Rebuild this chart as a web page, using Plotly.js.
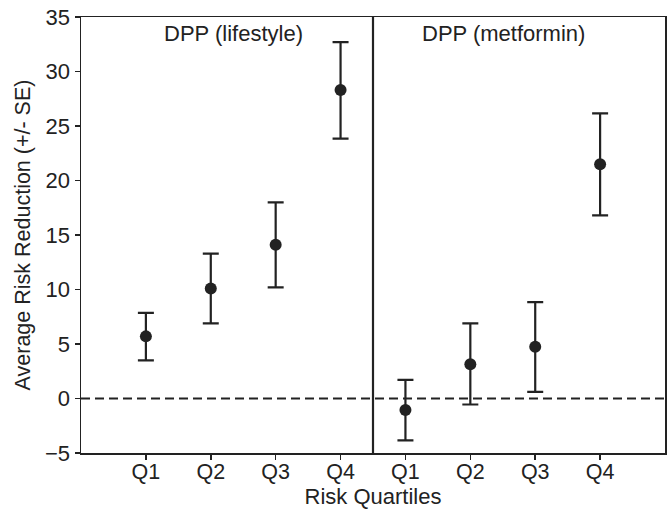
<!DOCTYPE html>
<html>
<head>
<meta charset="utf-8">
<script src="https://cdn.plot.ly/plotly-3.0.1.min.js"></script>
<style>html,body{margin:0;padding:0;background:#fff;}#chart{width:671px;height:512px;}</style>
</head>
<body>
<div id="chart"></div>
<script>
const quartiles = ["Q1", "Q2", "Q3", "Q4"];
const groups = ["DPP (lifestyle)", "DPP (metformin)"];
const lifestyleMean = [5.7, 10.1, 14.1, 28.3];
const lifestyleUpper = [7.85, 13.3, 18.0, 32.7];
const lifestyleLower = [3.5, 6.9, 10.2, 23.85];
const metforminMean = [-1.05, 3.15, 4.75, 21.5];
const metforminUpper = [1.7, 6.9, 8.85, 26.15];
const metforminLower = [-3.85, -0.55, 0.6, 16.8];

const lifePos = quartiles.map((q, i) => i + 1);
const metPos = quartiles.map((q, i) => i + 5);
const col = "#222222";
const fam = "'Liberation Sans', Arial, Helvetica, sans-serif";

function trace(pos, mean, up, lo) {
  return {
    type: "scatter", mode: "markers", x: pos, y: mean,
    marker: {color: col, size: 12},
    error_y: {type: "data", symmetric: false,
      array: mean.map((m, i) => up[i] - m),
      arrayminus: mean.map((m, i) => m - lo[i]),
      color: col, thickness: 2.2, width: 8},
    showlegend: false, hoverinfo: "y"
  };
}

const data = [
  trace(lifePos, lifestyleMean, lifestyleUpper, lifestyleLower),
  trace(metPos, metforminMean, metforminUpper, metforminLower)
];

const layout = {
  width: 671, height: 512,
  margin: {l: 81, r: 6, t: 17, b: 59},
  paper_bgcolor: "#fff", plot_bgcolor: "#fff",
  font: {family: fam, size: 21, color: col},
  xaxis: {
    range: [0, 9], tickvals: lifePos.concat(metPos), ticktext: quartiles.concat(quartiles),
    showgrid: false, zeroline: false, showline: true, mirror: true, linecolor: col, linewidth: 1.5,
    ticks: "outside", ticklen: 5, tickwidth: 1.5, tickcolor: col, ticklabelstandoff: -6,
    tickfont: {family: fam, size: 21.5, color: col},
    title: {text: "Risk Quartiles", font: {family: fam, size: 22, color: col}, standoff: 0}
  },
  yaxis: {
    range: [-5, 35], dtick: 5, tickformat: "d",
    showgrid: false, zeroline: false, showline: true, mirror: true, linecolor: col, linewidth: 1.5,
    ticks: "outside", ticklen: 5, tickwidth: 1.5, tickcolor: col,
    tickfont: {family: fam, size: 22, color: col},
    title: {text: "Average Risk Reduction (+/- SE)", font: {family: fam, size: 21.5, color: col}, standoff: 8}
  },
  shapes: [
    {type: "line", xref: "paper", yref: "y", x0: 0, x1: 1, y0: 0, y1: 0,
     line: {color: col, width: 2.2, dash: "9px,5px"}},
    {type: "line", xref: "x", yref: "paper", x0: 4.5, x1: 4.5, y0: 0, y1: 1,
     line: {color: col, width: 2.2}}
  ],
  annotations: [
    {xref: "x", yref: "paper", x: 2.35, y: 0.962, yanchor: "middle", showarrow: false,
     text: groups[0], font: {family: fam, size: 22, color: col}},
    {xref: "x", yref: "paper", x: 6.51, y: 0.962, yanchor: "middle", showarrow: false,
     text: groups[1], font: {family: fam, size: 22, color: col}}
  ]
};

Plotly.newPlot("chart", data, layout, {displayModeBar: false, staticPlot: true});
</script>
</body>
</html>
